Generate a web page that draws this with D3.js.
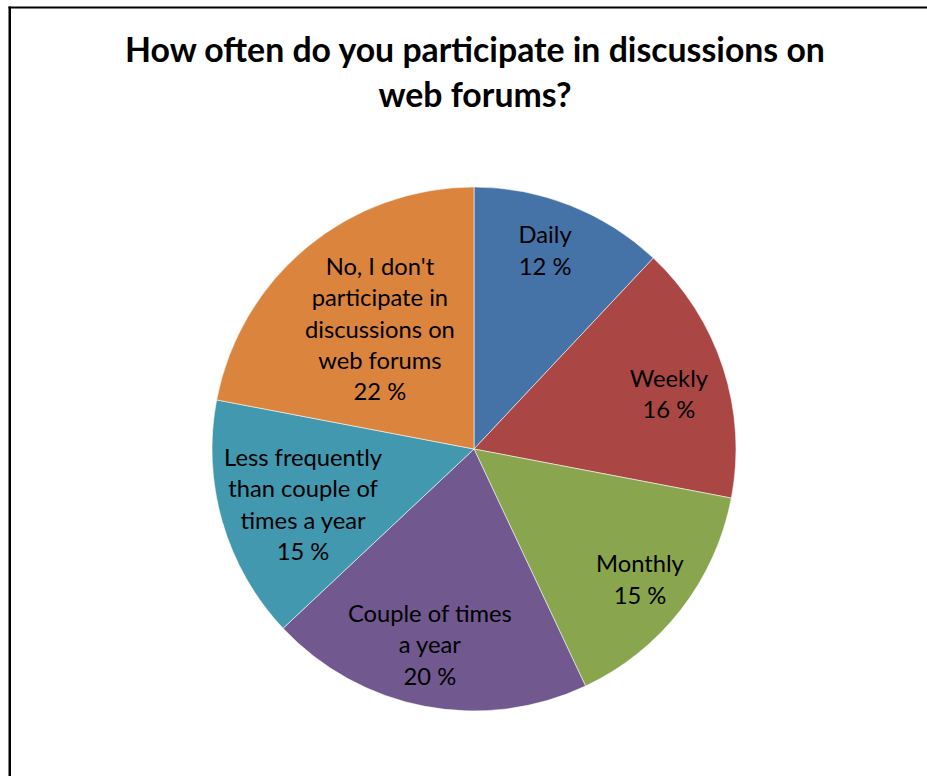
<!DOCTYPE html>
<html>
<head>
<meta charset="utf-8">
<script src="https://cdn.jsdelivr.net/npm/d3@7"></script>
<style>
  html, body { margin: 0; padding: 0; background: #fff; }
  svg { display: block; }
  text { font-family: Lato, "Open Sans", sans-serif; fill: #000; }
</style>
</head>
<body>
<script>
// Survey answers: how often respondents take part in web forum discussions
const categories = [
  "Daily",
  "Weekly",
  "Monthly",
  "Couple of times a year",
  "Less frequently than couple of times a year",
  "No, I don't participate in discussions on web forums"
];
const values = [12, 16, 15, 20, 15, 22];
// Wrapped label lines for each category
const labelLines = [
  ["Daily"],
  ["Weekly"],
  ["Monthly"],
  ["Couple of times", "a year"],
  ["Less frequently", "than couple of", "times a year"],
  ["No, I don't", "participate in", "discussions on", "web forums"]
];
const titleLines = ["How often do you participate in discussions on", "web forums?"];
const colors = ["#4572A7", "#AA4643", "#89A54E", "#71588F", "#4198AF", "#DB843D"];

// Layout
const W = 927, H = 776;
const cx = 474, cy = 449, R = 262;
// label anchor: fraction of the radius, and a small turn (degrees) off the slice's middle
const labelRadius = [0.805, 0.773, 0.806, 0.766, 0.686, 0.582];
const labelTurn = [-1.9, 2.2, 0.4, 1.9, -1.8, 1.5];
const lineGap = 31.3;

const svg = d3.select("body").append("svg").attr("width", W).attr("height", H);

// Chart frame (only the left and top edges fall inside the view)
svg.append("line").attr("x1", 9.75).attr("y1", 6.5).attr("x2", 9.75).attr("y2", H)
  .attr("stroke", "#000").attr("stroke-width", 2.5);
svg.append("line").attr("x1", 8.5).attr("y1", 7.5).attr("x2", W).attr("y2", 7.5)
  .attr("stroke", "#000").attr("stroke-width", 2);

// Title, sized so the first line spans the chart width
const title = svg.append("g");
const probe = title.append("text").attr("font-weight", "bold").attr("font-size", 100).text(titleLines[0]);
const titleSize = 100 * 700 / probe.node().getComputedTextLength();
probe.remove();
title.selectAll("text").data(titleLines).join("text")
  .attr("x", 475)
  .attr("y", (d, i) => 62 + i * 45)
  .attr("text-anchor", "middle")
  .attr("font-weight", "bold")
  .attr("font-size", titleSize)
  .text(d => d);

// Pie slices, starting at 12 o'clock and running clockwise
const pie = d3.pie().sort(null).value(d => d)(values);
const arc = d3.arc().innerRadius(0).outerRadius(R);
const g = svg.append("g").attr("transform", `translate(${cx},${cy})`);
g.selectAll("path").data(pie).join("path")
  .attr("d", arc)
  .attr("fill", (d, i) => colors[i])
  .attr("stroke", "#fff")
  .attr("stroke-width", 0.8)
  .attr("stroke-opacity", 0.7);

// Label font size fitted from a reference line
const lp = svg.append("text").attr("font-size", 100).text("Couple of times");
const labelSize = 100 * 164 / lp.node().getComputedTextLength();
lp.remove();

const labels = g.selectAll("g.lbl").data(pie).join("g").attr("class", "lbl")
  .attr("transform", (d, i) => {
    const a = (d.startAngle + d.endAngle) / 2 + labelTurn[i] * Math.PI / 180;
    const r = R * labelRadius[i];
    return `translate(${Math.sin(a) * r},${-Math.cos(a) * r})`;
  });
labels.each(function (d, i) {
  const lines = labelLines[i].concat([values[i] + " %"]);
  const n = lines.length;
  d3.select(this).selectAll("text").data(lines).join("text")
    .attr("text-anchor", "middle")
    .attr("font-size", labelSize)
    .attr("y", (t, j) => (j - (n - 1) / 2) * lineGap + 8.5)
    .text(t => t);
});
</script>
</body>
</html>
